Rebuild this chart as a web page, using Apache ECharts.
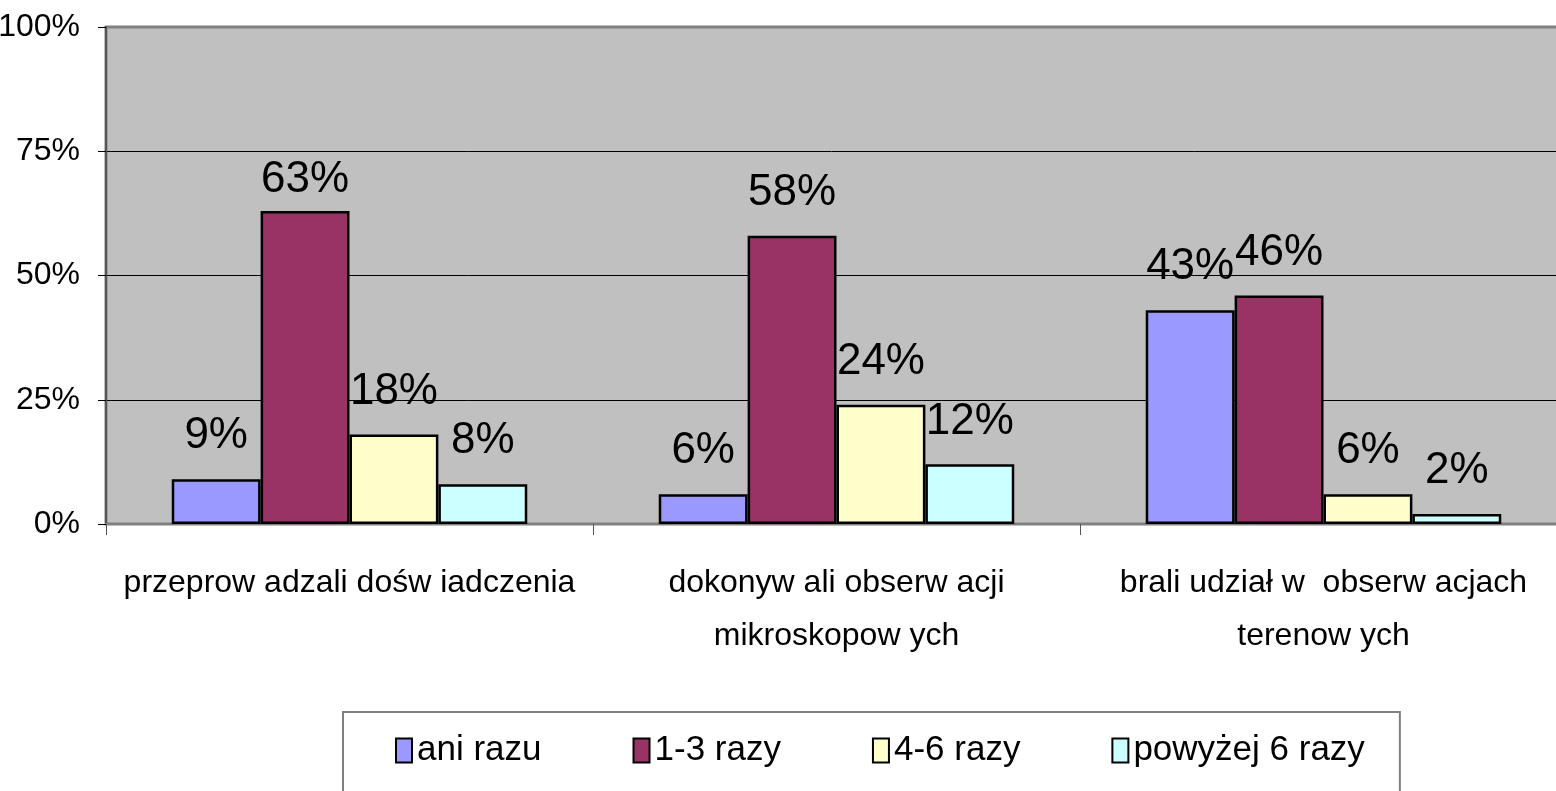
<!DOCTYPE html>
<html>
<head>
<meta charset="utf-8">
<script src="https://cdn.jsdelivr.net/npm/echarts@6/dist/echarts.min.js"></script>
<style>
  html, body { margin: 0; padding: 0; background: #fff; }
  #chart { width: 1556px; height: 791px; }
</style>
</head>
<body>
<div id="chart"></div>
<script>
var categories = [
  'przeprow adzali dośw iadczenia',
  'dokonyw ali obserw acji\nmikroskopow ych',
  'brali udział w  obserw acjach\nterenow ych'
]
var seriesNames = ['ani razu', '1-3 razy', '4-6 razy', 'powyżej 6 razy']
var aniRazu = [9, 6, 43]
var jedenTrzy = [63, 58, 46]
var czterySzesc = [18, 24, 6]
var powyzejSzesc = [8, 12, 2]
var yTicks = [0, 25, 50, 75, 100]

var colors = ['#9999ff', '#993366', '#ffffcc', '#ccffff']
var font = '"Liberation Sans Narrow", "Arial Narrow", "Liberation Sans", Arial, sans-serif'

function buildSeries (name, values, idx) {
  return {
    name: name,
    type: 'bar',
    barGap: '0%',
    barCategoryGap: '27%',
    itemStyle: {
      color: colors[idx],
      borderColor: '#000',
      borderWidth: 2.5
    },
    label: {
      show: true,
      position: 'top',
      distance: 21,
      formatter: '{c}%',
      color: '#000',
      fontSize: 44,
      fontFamily: font
    },
    data: values.map(function (v) {
      // the 63% label sits closer to its bar in the original
      if (v === 63) {
        return { value: v, label: { distance: 9 } }
      }
      return v
    })
  }
}

var chart = echarts.init(document.getElementById('chart'))
chart.setOption({
  animation: false,
  legend: {
    data: seriesNames,
    left: 343,
    top: 712,
    padding: [21, 35, 40, 52],
    itemGap: 91,
    itemWidth: 16,
    itemHeight: 24,
    icon: 'rect',
    backgroundColor: '#fff',
    borderColor: '#808080',
    borderWidth: 2,
    borderRadius: 0,
    textStyle: { fontSize: 35, fontFamily: font, color: '#000' }
  },
  grid: {
    show: true,
    left: 106,
    right: -11,
    top: 27,
    bottom: 791 - 524,
    outerBoundsMode: 'none',
    containLabel: false,
    backgroundColor: '#c0c0c0',
    borderColor: '#808080',
    borderWidth: 3
  },
  xAxis: {
    type: 'category',
    data: categories,
    axisLine: { lineStyle: { color: '#808080', width: 2 } },
    axisTick: { show: true, length: 11, lineStyle: { color: '#555' } },
    axisLabel: {
      margin: 33,
      fontSize: 32,
      lineHeight: 53,
      fontFamily: font,
      color: '#000',
      interval: 0
    }
  },
  yAxis: {
    type: 'value',
    min: yTicks[0],
    max: yTicks[yTicks.length - 1],
    interval: 25,
    axisLine: { show: true, lineStyle: { color: '#555', width: 2 } },
    axisTick: { show: true, length: 8, lineStyle: { color: '#000' } },
    axisLabel: {
      formatter: '{value}%',
      margin: 26,
      fontSize: 32,
      fontFamily: font,
      color: '#000'
    },
    splitLine: {
      show: true,
      lineStyle: { color: ['#808080', '#000', '#000', '#000', '#808080'], width: 1 }
    }
  },
  series: [
    buildSeries(seriesNames[0], aniRazu, 0),
    buildSeries(seriesNames[1], jedenTrzy, 1),
    buildSeries(seriesNames[2], czterySzesc, 2),
    buildSeries(seriesNames[3], powyzejSzesc, 3)
  ]
})
</script>
</body>
</html>
